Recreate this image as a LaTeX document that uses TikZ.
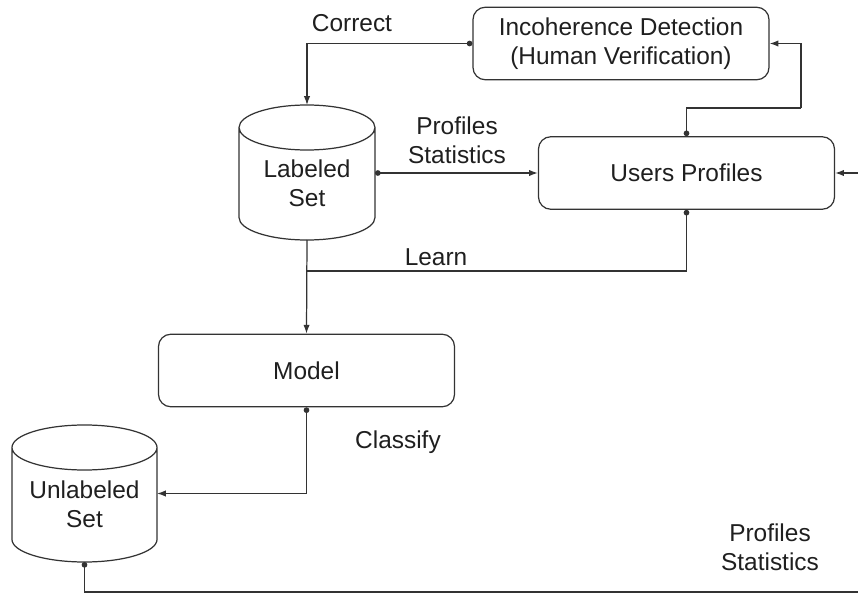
\documentclass[tikz,border=0pt]{standalone}
\usepackage{fontspec}
\setmainfont{Liberation Sans}
\usetikzlibrary{arrows.meta}

\tikzset{
    box/.style={draw=black!80, line width=0.7pt, rounded corners=7pt,
        minimum width=5.92cm, minimum height=1.45cm, align=center},
    dbase/.style={inner sep=0pt, outer sep=0pt, align=center},
    link/.style={draw=black!80, line width=0.7pt},
    dotarrow/.style={link, {Circle[length=3.2pt]}-{Latex[length=5pt,width=3.6pt]}},
    dotline/.style={link, {Circle[length=3.2pt]}-},
    plainarrow/.style={link, -{Latex[length=5pt,width=3.6pt]}}
}

\begin{document}
\begin{tikzpicture}[font=\fontsize{13.9pt}{16.5pt}\selectfont, text=black!88]
        \useasboundingbox (0, 0) rectangle (17.16, 11.88);

        \node[box] (inc) at (12.42, 11.01) {Incoherence Detection\\(Human Verification)};
        \node[box] (users) at (13.73, 8.42) {Users Profiles};
        \node[box] (model) at (6.13, 4.47) {Model};
        \node[dbase, minimum width=2.72cm, minimum height=2.25cm] (lab) at (6.14, 8.205) {Labeled\\Set};
        \node[dbase, minimum width=2.9cm, minimum height=2.29cm] (unl) at (1.69, 1.785) {Unlabeled\\Set};

        % cylinder outlines
        \foreach \n/\w in {lab/1.36, unl/1.45} {
            \draw[link] (\n.north west) -- ([yshift=0.45cm]\n.south west)
                arc[start angle=180, end angle=360, x radius=\w cm, y radius=0.45cm]
                -- (\n.north east)
                arc[start angle=0, end angle=360, x radius=\w cm, y radius=0.45cm];
        }

        \coordinate (turn) at (16.02, 9.72);
        \coordinate (learn) at (6.14, 6.46);
        \coordinate (extin) at (17.16, 8.42);
        \coordinate (extout) at (17.16, 0.04);

        \draw[dotarrow] (inc.west) -| ([yshift=0.45cm]lab.north);
        \draw[dotarrow] (users.west -| lab.east) -- (users.west);
        \draw[dotline] (users.north) |- (turn);
        \draw[plainarrow] (turn) |- (inc.east);
        \draw[plainarrow] (extin) -- (users.east);
        \draw[dotline] (users.south) |- (learn);
        \draw[plainarrow] (lab.south) -- (model.north);
        \draw[dotarrow] (model.south) |- ([yshift=0.225cm]unl.east);
        \draw[dotline] (unl.south) |- (extout);

        \node (correct) at (7.04, 11.42) {Correct};
        \node[align=center] (stats) at (9.14, 9.08) {Profiles\\Statistics};
        \node (learnlbl) at (8.72, 6.74) {Learn};
        \node (classify) at (7.96, 3.04) {Classify};
        \node[align=center] (stats2) at (15.4, 0.93) {Profiles\\Statistics};
    \end{tikzpicture}
\end{document}
